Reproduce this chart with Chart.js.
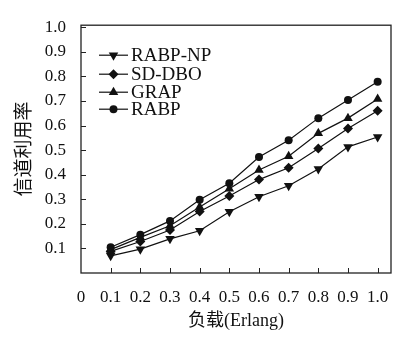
<!DOCTYPE html>
<html><head><meta charset="utf-8">
<script src="https://cdn.jsdelivr.net/npm/chart.js@4.4.1/dist/chart.umd.min.js"></script>
<style>html,body{margin:0;padding:0;background:#fff}</style>
</head><body>
<canvas id="c" width="403" height="338"></canvas>
<script>
const loads = [0.1, 0.2, 0.3, 0.4, 0.5, 0.6, 0.7, 0.8, 0.9, 1.0];
const rabpNP = [0.070, 0.097, 0.139, 0.172, 0.249, 0.310, 0.355, 0.423, 0.513, 0.553];
const sdDBO  = [0.088, 0.128, 0.175, 0.250, 0.313, 0.380, 0.428, 0.506, 0.588, 0.660];
const grap   = [0.095, 0.145, 0.192, 0.268, 0.343, 0.419, 0.475, 0.568, 0.630, 0.708];
const rabp   = [0.105, 0.156, 0.212, 0.298, 0.365, 0.472, 0.540, 0.630, 0.704, 0.778];
const seriesNames = ['RABP-NP', 'SD-DBO', 'GRAP', 'RABP'];
const xTicks = [0, 0.1, 0.2, 0.3, 0.4, 0.5, 0.6, 0.7, 0.8, 0.9, 1.0];
const xTickLabels = ['0', '0.1', '0.2', '0.3', '0.4', '0.5', '0.6', '0.7', '0.8', '0.9', '1.0'];
const yTicks = [0.1, 0.2, 0.3, 0.4, 0.5, 0.6, 0.7, 0.8, 0.9, 1.0];
const yTickLabels = ['0.1', '0.2', '0.3', '0.4', '0.5', '0.6', '0.7', '0.8', '0.9', '1.0'];
const xTitle = '负载(Erlang)';
const yTitle = '信道利用率';

const INK = '#111';
const SERIF = '"Liberation Serif", "Noto Sans CJK SC", serif';
const styles = [
  {pointStyle: 'triangle', rotation: 180, radius: 5.5},
  {pointStyle: 'rectRot', rotation: 0, radius: 5},
  {pointStyle: 'triangle', rotation: 0, radius: 5.5},
  {pointStyle: 'circle', rotation: 0, radius: 4}
];
const seriesData = [rabpNP, sdDBO, grap, rabp];

const datasets = seriesData.map((arr, i) => ({
  label: seriesNames[i],
  data: loads.map((x, k) => ({x: x, y: arr[k]})),
  borderColor: INK,
  backgroundColor: INK,
  borderWidth: 1.2,
  pointStyle: styles[i].pointStyle,
  pointRotation: styles[i].rotation,
  pointRadius: styles[i].radius,
  pointBorderWidth: 0,
  pointBackgroundColor: INK,
  tension: 0,
  fill: false
}));

function drawMarker(ctx, style, x, y) {
  const r = style.radius;
  ctx.beginPath();
  if (style.pointStyle === 'circle') {
    ctx.arc(x, y, r, 0, Math.PI * 2);
  } else if (style.pointStyle === 'rectRot') {
    ctx.moveTo(x, y - r); ctx.lineTo(x + r, y); ctx.lineTo(x, y + r); ctx.lineTo(x - r, y);
  } else {
    let rad = style.rotation * Math.PI / 180;
    for (let k = 0; k < 3; k++) {
      const px = x + Math.sin(rad) * r, py = y - Math.cos(rad) * r;
      if (k === 0) ctx.moveTo(px, py); else ctx.lineTo(px, py);
      rad += 2 * Math.PI / 3;
    }
  }
  ctx.closePath();
  ctx.fill();
}

const framePlugin = {
  id: 'frame',
  afterDraw(chart) {
    const {ctx, chartArea: a, scales: {x, y}} = chart;
    ctx.save();
    ctx.strokeStyle = '#222';
    ctx.lineWidth = 1.3;
    ctx.strokeRect(a.left, a.top, a.right - a.left, a.bottom - a.top);
    ctx.lineWidth = 1;
    ctx.beginPath();
    xTicks.forEach(v => {
      if (v === 0) return;
      const px = Math.round(x.getPixelForValue(v)) + 0.5;
      ctx.moveTo(px, a.bottom); ctx.lineTo(px, a.bottom - 5);
    });
    yTicks.forEach(v => {
      const py = Math.round(y.getPixelForValue(v)) + 0.5;
      ctx.moveTo(a.left, py); ctx.lineTo(a.left + 5, py);
    });
    ctx.stroke();
    // legend
    const lx0 = a.left + 18, lx1 = a.left + 47, tx = a.left + 50;
    const rowY = [a.top + 30, a.top + 49, a.top + 67, a.top + 84];
    ctx.font = '19px ' + SERIF;
    ctx.textBaseline = 'middle';
    ctx.textAlign = 'left';
    seriesNames.forEach((name, i) => {
      const ry = rowY[i];
      ctx.strokeStyle = INK; ctx.fillStyle = INK; ctx.lineWidth = 1.2;
      ctx.beginPath(); ctx.moveTo(lx0, ry); ctx.lineTo(lx1, ry); ctx.stroke();
      drawMarker(ctx, styles[i], (lx0 + lx1) / 2, ry);
      ctx.fillText(name, tx, ry + 1);
    });
    ctx.restore();
  }
};

new Chart(document.getElementById('c'), {
  type: 'line',
  data: {datasets: datasets},
  options: {
    responsive: false,
    animation: false,
    layout: {padding: {left: 0, top: 15, right: 12, bottom: 0}},
    plugins: {legend: {display: false}, tooltip: {enabled: false}},
    scales: {
      x: {
        type: 'linear', min: 0, max: 1.045,
        afterBuildTicks: s => { s.ticks = xTicks.map(v => ({value: v})); },
        afterFit: s => { s.height = 65; },
        ticks: {
          autoSkip: false, maxRotation: 0, padding: 14, color: INK,
          font: {family: SERIF, size: 17},
          callback: (v, i) => xTickLabels[i]
        },
        grid: {display: false, drawTicks: false},
        border: {display: false},
        title: {display: true, text: xTitle, color: INK, font: {family: SERIF, size: 18}, padding: {top: 0, bottom: 6}}
      },
      y: {
        type: 'linear', min: 0, max: 1.008,
        afterBuildTicks: s => { s.ticks = yTicks.map(v => ({value: v})); },
        afterFit: s => { s.width = 81; },
        ticks: {
          autoSkip: false, padding: 15, color: INK,
          font: {family: SERIF, size: 17},
          callback: (v, i) => yTickLabels[i]
        },
        grid: {display: false, drawTicks: false},
        border: {display: false},
        title: {display: true, text: yTitle, color: INK, font: {family: '"Noto Sans CJK SC", sans-serif', size: 19, weight: 'normal'}, padding: {top: 11, bottom: 0}}
      }
    }
  },
  plugins: [framePlugin]
});
</script>
</body></html>
